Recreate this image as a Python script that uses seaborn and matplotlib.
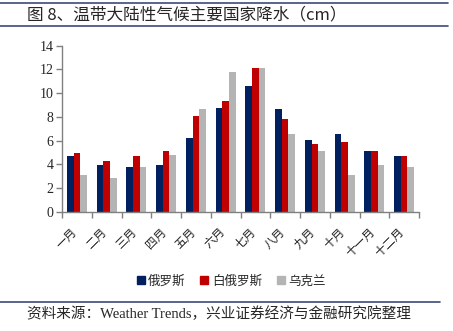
import matplotlib
matplotlib.use("Agg")
import matplotlib.pyplot as plt
import seaborn as sns
import pandas as pd
from matplotlib.lines import Line2D

months = ["一月", "二月", "三月", "四月", "五月", "六月", "七月", "八月", "九月", "十月", "十一月", "十二月"]
series_names = ["俄罗斯", "白俄罗斯", "乌克兰"]
russia = [4.68, 3.98, 3.78, 3.95, 6.25, 8.74, 10.59, 8.71, 6.05, 6.55, 5.13, 4.68]
belarus = [4.96, 4.29, 4.68, 5.15, 8.1, 9.36, 12.16, 7.82, 5.74, 5.91, 5.13, 4.68]
ukraine = [3.11, 2.86, 3.78, 4.82, 8.71, 11.76, 12.16, 6.55, 5.15, 3.14, 3.95, 3.78]
colors = ["#002060", "#C00000", "#B4B4B4"]
title = "图 8、温带大陆性气候主要国家降水（cm）"
source = "资料来源：Weather Trends，兴业证券经济与金融研究院整理"

df = pd.DataFrame({
    "month": months * 3,
    "country": sum([[n] * 12 for n in series_names], []),
    "value": russia + belarus + ukraine,
})

sns.set_theme(style="white")
plt.rcParams['font.family'] = ['Noto Sans CJK SC', 'DejaVu Sans']

fig = plt.figure(figsize=(4.53, 3.31), dpi=100)
ax = fig.add_axes([62 / 453, 1 - 212 / 331, (419 - 62) / 453, (212 - 45.7) / 331])

sns.barplot(data=df, x="month", y="value", hue="country", palette=colors,
            width=0.68, ax=ax, legend=False, saturation=1, edgecolor="none")

ax.set_ylim(0, 14)
ax.set_xlim(-0.5, 11.5)
ax.set_yticks(range(0, 15, 2))
ax.set_yticklabels([str(v) for v in range(0, 15, 2)], fontfamily="Liberation Serif", fontsize=10)
ax.set_xticks([i + 0.5 for i in range(-1, 12)], minor=False)
ax.set_xticklabels([])
for i, m in enumerate(months):
    ax.text(i + 0.1, -1.1, m, rotation=45, ha="right", va="top", fontsize=8.5, color="#222222",
            transform=ax.transData)
ax.set_xlabel("")
ax.set_ylabel("")
for s in ["top", "right"]:
    ax.spines[s].set_visible(False)
for s in ["left", "bottom"]:
    ax.spines[s].set_color("#808080")
    ax.spines[s].set_linewidth(1.0)
ax.tick_params(axis="both", which="both", direction="out", length=4, color="#808080", width=1,
               left=True, bottom=True, labelsize=10, pad=2)

handles = [Line2D([], [], marker="s", linestyle="none", markersize=6, color=c) for c in colors]
fig.legend(handles, series_names, loc="center", bbox_to_anchor=(230 / 453, 1 - 281 / 331),
           ncol=3, frameon=False, fontsize=9, handletextpad=0.1, columnspacing=1.0, handlelength=1.0)

fig.text(27 / 453, 1 - 15 / 331, title, fontsize=12, va="center", ha="left")
fig.add_artist(Line2D([0, 448 / 453], [1 - 3 / 331, 1 - 3 / 331], color="#3C4A7A", lw=1.2))
fig.add_artist(Line2D([0, 448 / 453], [1 - 26 / 331, 1 - 26 / 331], color="#3C4A7A", lw=1.2))
fig.add_artist(Line2D([0, 440 / 453], [1 - 302 / 331, 1 - 302 / 331], color="#3C4A7A", lw=1.2))
fig.text(27 / 453, 1 - 314 / 331, source, fontsize=10.5, va="center", ha="left",
         fontfamily=["Liberation Serif", "Noto Sans CJK SC"])

fig.savefig("out.png", dpi=100)
